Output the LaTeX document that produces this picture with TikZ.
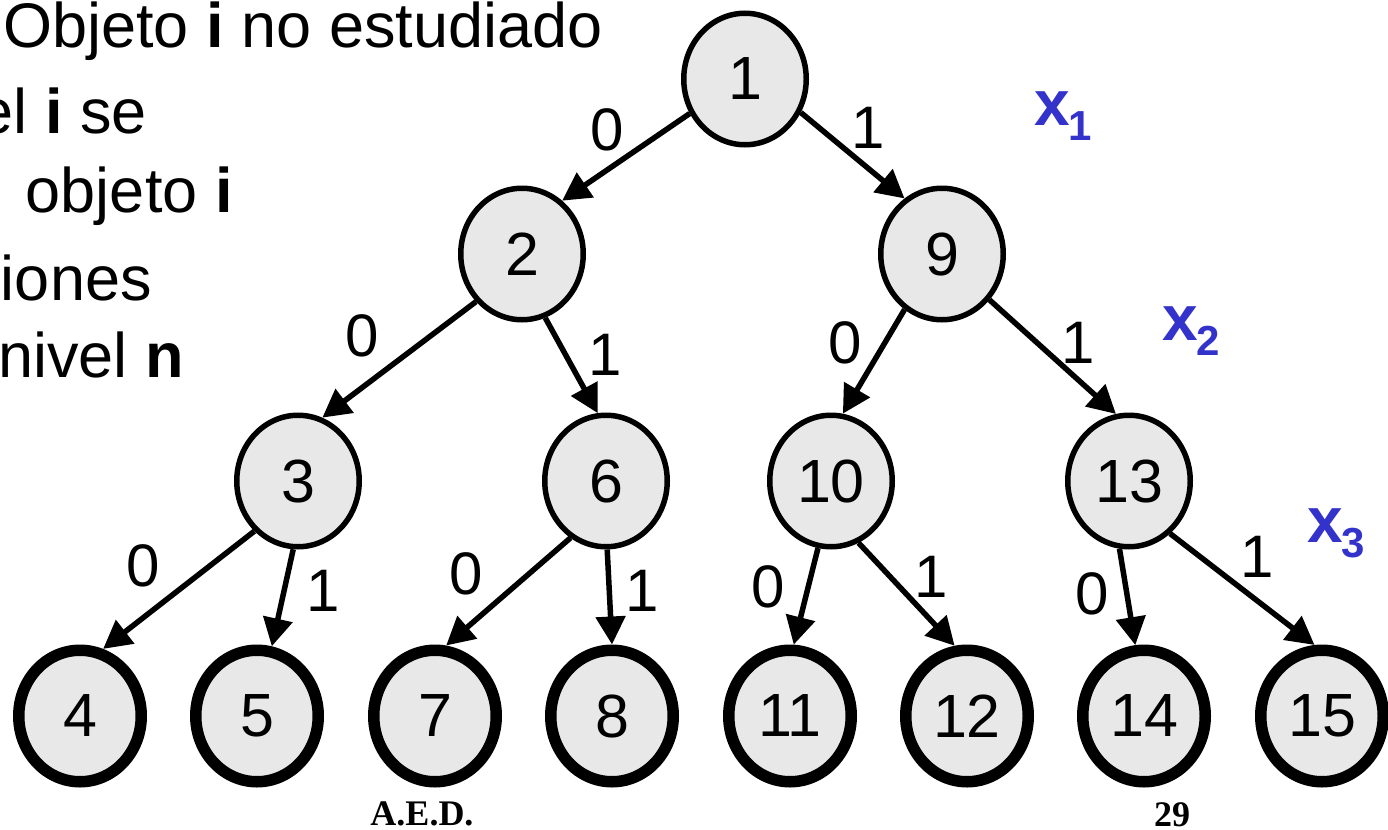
\documentclass[tikz,border=0pt]{standalone}
\usepackage{fontspec}
\setmainfont{Liberation Sans}
\newfontfamily\footserif{Liberation Serif}
\usetikzlibrary{arrows.meta,shapes.geometric}
\definecolor{nodefill}{RGB}{232,232,232}
\definecolor{xblue}{RGB}{51,51,204}
\begin{document}
\begin{tikzpicture}[x=0.5pt,y=-0.5pt,
  inode/.style={ellipse, draw=black, line width=2.75pt, fill=nodefill,
    minimum width=61.25pt, minimum height=65.75pt, inner sep=0pt,
    font=\fontsize{30.5}{36}\selectfont},
  leaf/.style={inode, line width=5.75pt},
  edge/.style={line width=2.75pt, -{Triangle[length=14pt,width=14.5pt]}},
  elabel/.style={inner sep=0pt, font=\fontsize{30}{36}\selectfont},
  lefttext/.style={inner sep=0pt, font=\fontsize{31.5}{38}\selectfont},
  xlab/.style={inner sep=0pt, text=xblue, anchor=base west,
    font=\bfseries\fontsize{32}{38}\selectfont},
  foot/.style={inner sep=0pt, anchor=base,
    font=\footserif\bfseries\fontsize{18}{22}\selectfont}]
\useasboundingbox (0,0) rectangle (1388,830);
\clip (0,0) rectangle (1388,830);

% left text (partly cut)
\node[lefttext, anchor=base west] (t1) at (3,47) {Objeto \textbf{i} no estudiado};
\node[lefttext, anchor=base east] (t2) at (147,133) {el \textbf{i} se};
\node[lefttext, anchor=base east] (t3) at (233,212) {objeto \textbf{i}};
\node[lefttext, anchor=base east] (t4) at (152,300) {iones};
\node[lefttext, anchor=base east] (t5) at (184,377) {nivel \textbf{n}};

% tree nodes
\node[inode] (n1) at (745,79) {1};
\node[inode] (n2) at (522,254) {2};
\node[inode] (n9) at (942,254) {9};
\node[inode] (n3) at (298,481) {3};
\node[inode] (n6) at (606,481) {6};
\node[inode] (n10) at (831,481) {10};
\node[inode] (n13) at (1129,481) {13};
\node[leaf] (n4) at (80,716) {4};
\node[leaf] (n5) at (257,716) {5};
\node[leaf] (n7) at (435,716) {7};
\node[leaf] (n8) at (612,716) {8};
\node[leaf] (n11) at (790,716) {11};
\node[leaf] (n12) at (967,716) {12};
\node[leaf] (n14) at (1144,716) {14};
\node[leaf] (n15) at (1322,716) {15};

% edges
\draw[edge] (n1.212) -- (n2.53);
\draw[edge] (n1.329) -- (n9.124);
\draw[edge] (n2.226) -- (n3.69);
\draw[edge] (n2.290) -- (n6.97);
\draw[edge] (n9.236) -- (n10.80);
\draw[edge] (n9.316) -- (n13.101);
\draw[edge] (n3.229) -- (n4.71);
\draw[edge] (n3.266) -- (n5.78);
\draw[edge] (n6.238) -- (n7.81);
\draw[edge] (n6.271) -- (n8.90);
\draw[edge] (n10.259) -- (n11.87);
\draw[edge] (n10.294) -- (n12.100);
\draw[edge] (n13.262) -- (n14.97);
\draw[edge] (n13.308) -- (n15.96);

% edge labels
\node[elabel] (l12) at (607,130) {0};
\node[elabel] (l19) at (868,128) {1};
\node[elabel] (l23) at (362,336) {0};
\node[elabel] (l26) at (605,355) {1};
\node[elabel] (l910) at (845,343) {0};
\node[elabel] (l913) at (1078,343) {1};
\node[elabel] (l34) at (143,566) {0};
\node[elabel] (l35) at (323,591) {1};
\node[elabel] (l67) at (466,574) {0};
\node[elabel] (l68) at (642,591) {1};
\node[elabel] (l1011) at (768,587) {0};
\node[elabel] (l1012) at (931,577) {1};
\node[elabel] (l1314) at (1092,594) {0};
\node[elabel] (l1315) at (1257,557) {1};

% variable labels
\node[xlab] (x1) at (1034,125) {x\kern-1pt\raisebox{-7.5pt}{\fontsize{21}{24}\selectfont 1}};
\node[xlab] (x2) at (1162,340) {x\kern-1pt\raisebox{-7.5pt}{\fontsize{21}{24}\selectfont 2}};
\node[xlab] (x3) at (1307,542) {x\kern-1pt\raisebox{-7.5pt}{\fontsize{21}{24}\selectfont 3}};

% footer
\node[foot] (aed) at (422,825) {A.E.D.};
\node[foot] (pg) at (1172,826) {29};
\end{tikzpicture}
\end{document}
